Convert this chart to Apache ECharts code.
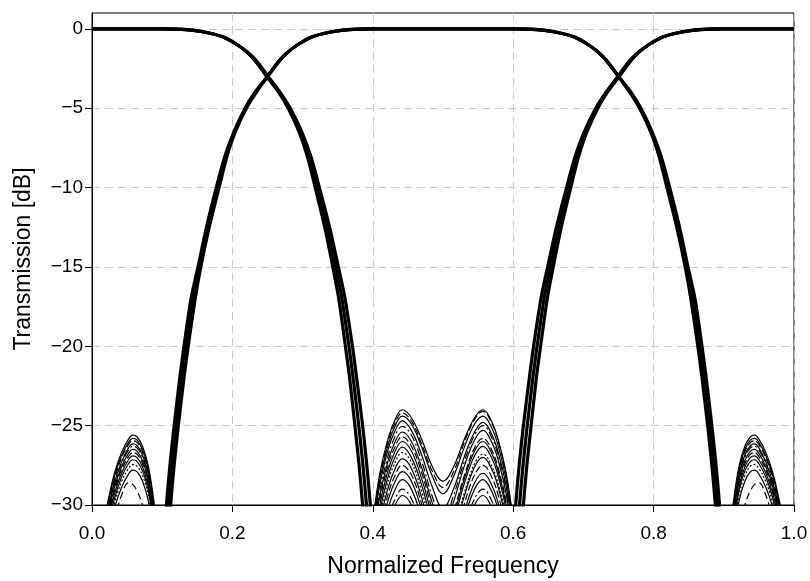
<!DOCTYPE html>
<html>
<head>
<meta charset="utf-8">
<script src="https://cdn.jsdelivr.net/npm/echarts@6/dist/echarts.min.js"></script>
<style>
html,body{margin:0;padding:0;background:#fff;}
#chart{width:810px;height:581px;}
</style>
</head>
<body>
<div id="chart"></div>
<script>
// ---------------- DATA ----------------
// dB levels at which the steep filter edges were read
const edgeLevels = [0, -0.05, -0.2, -0.5, -1.0, -1.5, -2.0, -3.0, -4.0, -5.0, -6.5, -8, -10, -12.5, -15, -17, -20, -22, -25, -27.5, -30, -33];

// Filter A (bandstop-like) falling edge near 0.25..0.39 : low / mid / high of the bundle
const aFallLow  = [0.100, 0.135, 0.160, 0.186, 0.207, 0.2215, 0.232, 0.249, 0.266, 0.2795, 0.295, 0.3065, 0.318, 0.3315, 0.343, 0.3515, 0.361, 0.367, 0.3745, 0.3805, 0.3855, 0.3905];
const aFallMid  = [0.100, 0.135, 0.160, 0.186, 0.207, 0.222, 0.233, 0.250, 0.267, 0.281, 0.297, 0.309, 0.321, 0.335, 0.347, 0.356, 0.366, 0.372, 0.380, 0.386, 0.391, 0.396];
const aFallHigh = [0.100, 0.135, 0.160, 0.186, 0.207, 0.2225, 0.234, 0.251, 0.268, 0.2825, 0.299, 0.3115, 0.324, 0.3385, 0.351, 0.3605, 0.371, 0.377, 0.3855, 0.3915, 0.3965, 0.4015];

// Filter A rising edge near 0.61..0.75
const aRiseLow  = [0.900, 0.865, 0.840, 0.814, 0.793, 0.7775, 0.766, 0.749, 0.732, 0.7175, 0.701, 0.6885, 0.676, 0.6615, 0.649, 0.6395, 0.629, 0.623, 0.6145, 0.6085, 0.6035, 0.5985];
const aRiseMid  = [0.900, 0.865, 0.840, 0.814, 0.793, 0.778, 0.767, 0.750, 0.733, 0.719, 0.703, 0.691, 0.679, 0.665, 0.653, 0.644, 0.634, 0.628, 0.620, 0.614, 0.609, 0.604];
const aRiseHigh = [0.900, 0.865, 0.840, 0.814, 0.793, 0.7785, 0.768, 0.751, 0.734, 0.7205, 0.705, 0.6935, 0.682, 0.6685, 0.657, 0.6485, 0.639, 0.633, 0.6255, 0.6195, 0.6145, 0.6095];

// Filter B (bandpass) rising edge near 0.11..0.25
const bRiseLow  = [0.400, 0.365, 0.340, 0.314, 0.293, 0.278, 0.267, 0.250, 0.232, 0.218, 0.202, 0.1895, 0.177, 0.163, 0.151, 0.141, 0.131, 0.125, 0.117, 0.111, 0.106, 0.101];
const bRiseMid  = [0.400, 0.365, 0.340, 0.314, 0.293, 0.278, 0.267, 0.250, 0.233, 0.219, 0.203, 0.191, 0.179, 0.165, 0.153, 0.144, 0.134, 0.128, 0.120, 0.114, 0.109, 0.104];
const bRiseHigh = [0.400, 0.365, 0.340, 0.314, 0.293, 0.278, 0.267, 0.250, 0.234, 0.220, 0.204, 0.1925, 0.181, 0.167, 0.155, 0.147, 0.137, 0.131, 0.123, 0.117, 0.112, 0.107];

// Filter B falling edge near 0.75..0.89
const bFallLow  = [0.600, 0.635, 0.660, 0.686, 0.707, 0.722, 0.733, 0.750, 0.766, 0.780, 0.796, 0.8075, 0.819, 0.833, 0.845, 0.853, 0.863, 0.869, 0.877, 0.883, 0.888, 0.893];
const bFallMid  = [0.600, 0.635, 0.660, 0.686, 0.707, 0.722, 0.733, 0.750, 0.767, 0.781, 0.797, 0.809, 0.821, 0.835, 0.847, 0.856, 0.866, 0.872, 0.880, 0.886, 0.891, 0.896];
const bFallHigh = [0.600, 0.635, 0.660, 0.686, 0.707, 0.722, 0.733, 0.750, 0.768, 0.782, 0.798, 0.8105, 0.823, 0.837, 0.849, 0.859, 0.869, 0.875, 0.883, 0.889, 0.894, 0.899];

// Outer side lobes of filter B (around 0.06 and 0.94)
const lobeLeftX  = [0.012, 0.022, 0.032, 0.042, 0.052, 0.058, 0.064, 0.072, 0.080, 0.088, 0.096];
const lobeRightX = [0.990, 0.980, 0.970, 0.960, 0.950, 0.944, 0.938, 0.930, 0.922, 0.914, 0.906];
const lobe1  = [-32.0, -29.9, -28.0, -26.7, -25.85, -25.6, -25.7, -26.3, -27.5, -29.7, -33.0];
const lobe2  = [-32.3, -30.1, -28.2, -26.9, -26.05, -25.8, -25.9, -26.5, -27.7, -29.9, -33.2];
const lobe3  = [-32.4, -30.3, -28.4, -27.05, -26.2, -25.95, -26.05, -26.65, -27.85, -30.1, -33.4];
const lobe4  = [-32.6, -30.5, -28.6, -27.3, -26.4, -26.15, -26.25, -26.85, -28.05, -30.3, -33.6];
const lobe5  = [-32.8, -30.6, -28.7, -27.4, -26.55, -26.3, -26.4, -27.0, -28.2, -30.4, -33.7];
const lobe6  = [-33.0, -30.8, -28.9, -27.6, -26.75, -26.5, -26.6, -27.2, -28.4, -30.6, -33.9];
const lobe7  = [-33.1, -31.0, -29.1, -27.8, -26.95, -26.7, -26.8, -27.4, -28.6, -30.8, -34.1];
const lobe8  = [-33.3, -31.2, -29.3, -28.0, -27.15, -26.9, -27.0, -27.6, -28.8, -31.0, -34.3];
const lobe9  = [-33.6, -31.5, -29.6, -28.25, -27.4, -27.15, -27.25, -27.85, -29.05, -31.3, -34.6];
const lobe10 = [-33.9, -31.8, -29.9, -28.55, -27.7, -27.45, -27.55, -28.15, -29.35, -31.6, -34.9];
const lobe11 = [-34.2, -32.1, -30.2, -28.9, -28.05, -27.8, -27.9, -28.5, -29.7, -31.9, -35.2];
const lobe12 = [-35.0, -33.0, -31.0, -29.4, -28.6, -28.7, -29.1, -30.0, -31.5, -34.0, -37.0];

// Stop-band ripples of filter A (around 0.44 and 0.56)
const rippleX = [0.390, 0.400, 0.410, 0.420, 0.430, 0.442, 0.455, 0.470, 0.485, 0.500, 0.515, 0.530, 0.545, 0.557, 0.570, 0.580, 0.590, 0.600, 0.610];
const ripple1  = [-33.0, -30.8, -28.0, -26.1, -24.8, -24.0, -24.5, -25.9, -27.6, -28.5, -27.6, -25.9, -24.5, -24.0, -24.8, -26.1, -28.0, -30.8, -33.0];
const ripple2  = [-33.2, -31.0, -28.2, -26.3, -25.0, -24.2, -24.7, -26.2, -27.9, -28.9, -27.9, -26.1, -24.6, -24.1, -24.9, -26.2, -28.1, -30.9, -33.1];
const ripple3  = [-33.4, -31.2, -28.4, -26.5, -25.2, -24.4, -24.9, -26.4, -28.2, -29.3, -28.2, -26.4, -24.9, -24.4, -25.2, -26.5, -28.4, -31.2, -33.4];
const ripple4  = [-33.7, -31.5, -28.7, -26.8, -25.5, -24.7, -25.3, -26.9, -28.9, -30.2, -29.0, -27.0, -25.4, -24.8, -25.6, -26.9, -28.8, -31.6, -33.8];
const ripple5  = [-34.0, -31.9, -29.1, -27.2, -25.85, -25.05, -25.6, -27.3, -29.5, -31.0, -29.4, -27.3, -25.6, -25.0, -25.8, -27.1, -29.0, -31.8, -34.0];
const ripple6  = [-34.4, -32.2, -29.4, -27.5, -26.2, -25.4, -26.0, -27.7, -29.9, -31.5, -29.8, -27.6, -25.9, -25.3, -26.1, -27.4, -29.3, -32.1, -34.3];
const ripple7  = [-34.7, -32.5, -29.7, -27.8, -26.5, -25.7, -26.3, -28.0, -30.3, -32.0, -30.4, -28.2, -26.4, -25.8, -26.6, -27.9, -29.8, -32.6, -34.8];
const ripple8  = [-35.0, -32.8, -30.0, -28.1, -26.8, -26.0, -26.6, -28.4, -30.7, -32.5, -30.7, -28.4, -26.6, -26.0, -26.8, -28.1, -30.0, -32.8, -35.0];
const ripple9  = [-35.4, -33.2, -30.4, -28.5, -27.15, -26.35, -27.0, -28.8, -31.2, -33.0, -31.1, -28.7, -26.9, -26.3, -27.1, -28.4, -30.3, -33.1, -35.3];
const ripple10 = [-35.7, -33.5, -30.7, -28.8, -27.5, -26.7, -27.3, -29.2, -31.6, -33.5, -31.7, -29.3, -27.4, -26.8, -27.6, -28.9, -30.8, -33.6, -35.8];
const ripple11 = [-36.1, -33.9, -31.1, -29.2, -27.9, -27.1, -27.7, -29.6, -32.1, -34.0, -32.0, -29.5, -27.6, -27.0, -27.8, -29.1, -31.0, -33.8, -36.0];
const ripple12 = [-36.5, -34.3, -31.5, -29.6, -28.3, -27.5, -28.1, -30.0, -32.5, -34.5, -32.5, -30.0, -28.1, -27.5, -28.3, -29.6, -31.5, -34.3, -36.5];
const ripple13 = [-36.9, -34.7, -31.9, -30.0, -28.7, -27.9, -28.5, -30.4, -33.0, -35.0, -33.1, -30.5, -28.6, -28.0, -28.8, -30.1, -32.0, -34.8, -37.0];
const ripple14 = [-37.4, -35.2, -32.4, -30.5, -29.2, -28.4, -29.0, -30.9, -33.5, -35.5, -33.5, -30.9, -29.0, -28.4, -29.2, -30.5, -32.4, -35.2, -37.4];
const ripple15 = [-38.0, -35.8, -33.0, -31.1, -29.8, -29.0, -29.6, -31.5, -34.0, -36.0, -34.0, -31.5, -29.6, -29.0, -29.8, -31.1, -33.0, -35.8, -38.0];
const ripple16 = [-38.4, -36.2, -33.4, -31.5, -30.2, -29.4, -30.0, -31.9, -34.4, -36.5, -34.4, -31.9, -30.0, -29.4, -30.2, -31.5, -33.4, -36.2, -38.4];

// axis ticks
const xTicks = [0.0, 0.2, 0.4, 0.6, 0.8, 1.0];
const yTicks = [-30, -25, -20, -15, -10, -5, 0];

// ---------------- BUILD ----------------
const FONT = '"Liberation Sans", Arial, sans-serif';
function pairs(xs, ys) { return xs.map((x, i) => [x, ys[i]]); }

const series = [];
function addLine(data, opts) {
  series.push(Object.assign({
    type: 'line', data: data, showSymbol: false, symbol: 'none',
    silent: true, animation: false, clip: true, z: 3,
    lineStyle: { color: '#000', width: 1 }
  }, opts));
}

// main filter edges
const edgeStyle = { color: '#000', width: 3.2, join: 'round' };
[[aFallLow, aRiseLow, bRiseLow, bFallLow],
 [aFallMid, aRiseMid, bRiseMid, bFallMid],
 [aFallHigh, aRiseHigh, bRiseHigh, bFallHigh]].forEach(g => {
  const [af, ar, br, bf] = g;
  addLine([[0, 0]].concat(pairs(af, edgeLevels)), { smooth: 0.25, lineStyle: edgeStyle });
  addLine(pairs(ar, edgeLevels).reverse().concat([[1, 0]]), { smooth: 0.25, lineStyle: edgeStyle });
  addLine(pairs(br, edgeLevels).reverse().concat(pairs(bf, edgeLevels)), { smooth: 0.25, lineStyle: edgeStyle });
});

const lobes = [lobe1, lobe2, lobe3, lobe4, lobe5, lobe6, lobe7, lobe8, lobe9, lobe10, lobe11, lobe12];
const lobeDash = ['solid', 'solid', [7, 3], 'solid', [8, 3, 2, 3], 'solid', [7, 3], 'solid', 'solid', [2, 2], 'solid', [7, 4]];
lobes.forEach((v, i) => {
  const ls = { color: '#000', width: 1.2, type: lobeDash[i] };
  addLine(pairs(lobeLeftX, v), { smooth: 0.4, lineStyle: ls });
  addLine(pairs(lobeRightX, v), { smooth: 0.4, lineStyle: ls });
});

const ripples = [ripple1, ripple2, ripple3, ripple4, ripple5, ripple6, ripple7, ripple8, ripple9, ripple10, ripple11, ripple12, ripple13, ripple14, ripple15, ripple16];
const rippleDash = ['solid', [7, 3], 'solid', 'solid', [8, 3, 2, 3], 'solid', [7, 3], 'solid', 'solid', [2, 2], 'solid', [7, 3], 'solid', 'solid', [8, 3, 2, 3], 'solid'];
ripples.forEach((v, i) => {
  addLine(pairs(rippleX, v), { smooth: 0.4, lineStyle: { color: '#000', width: 1.2, type: rippleDash[i] } });
});

const gridLine = { show: true, lineStyle: { color: '#c8c8c8', width: 1, type: [8, 5] } };

const option = {
  backgroundColor: '#fff',
  animation: false,
  grid: { left: 92, right: 16, top: 13, bottom: 76, show: true, borderColor: '#000', borderWidth: 1,
          backgroundColor: 'transparent', containLabel: false, outerBoundsMode: 'none' },
  xAxis: {
    type: 'value', min: 0, max: 1, interval: 0.2,
    name: 'Normalized Frequency', nameLocation: 'middle', nameGap: 50,
    nameTextStyle: { fontFamily: FONT, fontSize: 23, color: '#000' },
    axisLine: { show: true, onZero: false, lineStyle: { color: '#000', width: 1 } },
    axisTick: { show: true, length: 7, inside: false, lineStyle: { color: '#000' } },
    axisLabel: { fontFamily: FONT, fontSize: 19, color: '#000', margin: 19, formatter: v => v.toFixed(1) },
    splitLine: gridLine
  },
  yAxis: {
    type: 'value', min: -30, max: 1,
    name: 'Transmission [dB]', nameLocation: 'middle', nameGap: 57,
    nameTextStyle: { fontFamily: FONT, fontSize: 23, color: '#000' },
    axisLine: { show: true, onZero: false, lineStyle: { color: '#000', width: 1 } },
    axisTick: { show: true, length: 7, inside: false, lineStyle: { color: '#000' }, customValues: yTicks },
    axisLabel: { fontFamily: FONT, fontSize: 19, color: '#000', margin: 9, customValues: yTicks,
                 formatter: v => (v < 0 ? '\u2212' + Math.abs(v) : String(v)) },
    splitLine: gridLine
  },
  series: series
};

const chart = echarts.init(document.getElementById('chart'), null, { renderer: 'canvas' });
chart.setOption(option);
</script>
</body>
</html>
